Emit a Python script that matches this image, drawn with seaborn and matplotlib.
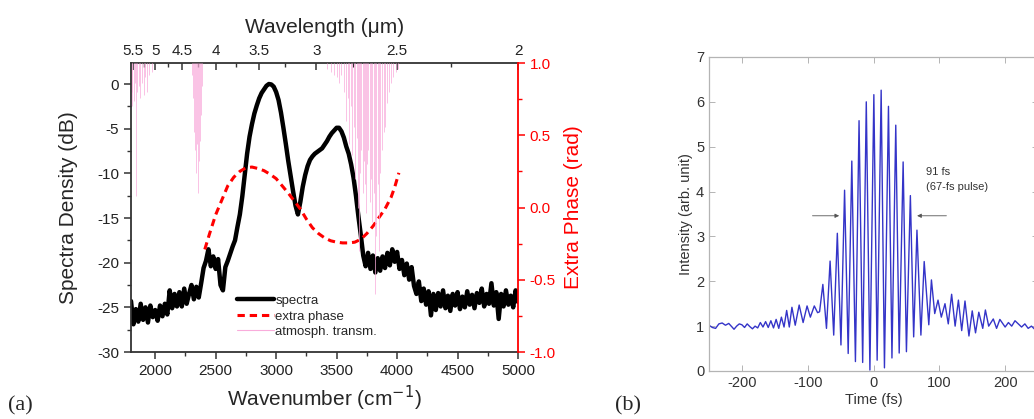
import seaborn as sns
import matplotlib.pyplot as plt
from matplotlib.lines import Line2D

# ---- panel (a): measured spectrum (dB) vs wavenumber ----
wavenumber = [1800, 1820, 1840, 1860, 1880, 1900, 1920, 1940, 1960, 1980,
              2000, 2020, 2040, 2060, 2080, 2100, 2120, 2140, 2160, 2180,
              2200, 2220, 2240, 2260, 2280, 2300, 2320, 2340, 2360, 2380,
              2400, 2420, 2440, 2460, 2480, 2500, 2520, 2540, 2560, 2580,
              2600, 2620, 2640, 2660, 2680, 2700, 2720, 2740, 2760, 2780,
              2800, 2820, 2840, 2860, 2880, 2900, 2920, 2940, 2960, 2980,
              3000, 3020, 3040, 3060, 3080, 3100, 3120, 3140, 3160, 3180,
              3200, 3220, 3240, 3260, 3280, 3300, 3320, 3340, 3360, 3380,
              3400, 3420, 3440, 3460, 3480, 3500, 3520, 3540, 3560, 3580,
              3600, 3620, 3640, 3660, 3680, 3700, 3720, 3740, 3760, 3780,
              3800, 3820, 3840, 3860, 3880, 3900, 3920, 3940, 3960, 3980,
              4000, 4020, 4040, 4060, 4080, 4100, 4120, 4140, 4160, 4180,
              4200, 4220, 4240, 4260, 4280, 4300, 4320, 4340, 4360, 4380,
              4400, 4420, 4440, 4460, 4480, 4500, 4520, 4540, 4560, 4580,
              4600, 4620, 4640, 4660, 4680, 4700, 4720, 4740, 4760, 4780,
              4800, 4820, 4840, 4860, 4880, 4900, 4920, 4940, 4960, 4980, 5000]
spectra_db = [-24.3, -26.9, -25.2, -26.6, -24.6, -26.4, -25.0, -26.7, -24.8, -26.1,
              -25.3, -26.5, -24.8, -26.0, -24.6, -25.8, -23.1, -25.1, -23.5, -24.9,
              -23.3, -24.9, -22.9, -24.6, -23.5, -22.5, -24.1, -22.7, -23.9, -22.3,
              -20.6, -19.8, -18.5, -20.4, -19.3, -20.7, -19.6, -22.5, -23.1, -20.5,
              -19.8, -19.0, -18.2, -17.5, -16.0, -14.6, -12.6, -10.2, -7.8, -5.9,
              -4.5, -3.3, -2.4, -1.6, -1.0, -0.6, -0.2, 0.0, -0.05, -0.3,
              -0.9, -1.8, -3.2, -4.9, -6.7, -8.6, -10.3, -12.0, -13.6, -14.6,
              -13.2, -11.5, -10.2, -9.2, -8.5, -8.1, -7.8, -7.6, -7.4, -7.2,
              -6.8, -6.4, -5.9, -5.5, -5.2, -4.9, -4.9, -5.3, -6.0, -7.0,
              -7.8, -9.0, -10.5, -12.5, -14.8, -16.9, -19.2, -20.4, -18.9, -20.7,
              -19.2, -21.1, -19.5, -20.9, -19.3, -20.6, -18.9, -20.3, -18.5, -19.9,
              -18.8, -20.7, -19.7, -21.4, -20.1, -21.9, -20.5, -22.6, -23.5, -22.1,
              -24.3, -22.9, -24.7, -23.2, -25.9, -23.5, -25.3, -23.4, -24.9, -23.1,
              -25.1, -23.7, -25.4, -23.5, -24.8, -23.3, -25.2, -23.8, -25.0, -23.2,
              -24.7, -23.6, -25.1, -23.4, -24.5, -22.9, -24.9, -23.5, -24.6, -22.3,
              -24.8, -23.3, -26.3, -23.5, -24.9, -23.1, -24.7, -23.7, -25.0, -23.1, -24.4]

phase_wn = [2410, 2450, 2500, 2550, 2600, 2650, 2700, 2750, 2800, 2850,
            2900, 2950, 3000, 3050, 3100, 3150, 3200, 3250, 3300, 3350,
            3400, 3450, 3500, 3550, 3600, 3650, 3700, 3750, 3800, 3850,
            3900, 3950, 3980, 4015]
phase_rad = [-0.29, -0.18, -0.05, 0.05, 0.15, 0.21, 0.25, 0.275, 0.28, 0.27,
             0.255, 0.23, 0.20, 0.15, 0.10, 0.045, -0.01, -0.08, -0.14, -0.18,
             -0.21, -0.23, -0.24, -0.245, -0.245, -0.24, -0.22, -0.18, -0.13, -0.07,
             -0.01, 0.07, 0.14, 0.24]

# atmospheric absorption lines (centre wavenumber, transmission at the dip)
atm_wn = [1805, 1812, 1821, 1830, 1845, 1852, 1862, 1874, 1890, 1905,
          1918, 1932, 1950, 1970,
          2305, 2315, 2322, 2330, 2338, 2345, 2352, 2360, 2368, 2376, 2385,
          3420, 3450, 3480, 3500, 3520, 3540, 3560, 3575, 3590, 3600,
          3615, 3625, 3640, 3652, 3665, 3678, 3686, 3695, 3705, 3715,
          3725, 3735, 3745, 3752, 3762, 3772, 3783, 3795, 3805, 3818,
          3828, 3840, 3852, 3862, 3875, 3888, 3900, 3915, 3930, 3950,
          3970, 3990, 4010]
atm_trans = [0.90, 0.85, 0.87, 0.93, 0.54, 0.90, 0.92, 0.88, 0.93, 0.89,
             0.95, 0.90, 0.96, 0.97,
             0.96, 0.88, 0.76, 0.70, 0.62, 0.72, 0.55, 0.66, 0.73, 0.82, 0.92,
             0.98, 0.97, 0.96, 0.95, 0.93, 0.96, 0.90, 0.80, 0.88, 0.72,
             0.85, 0.68, 0.78, 0.60, 0.74, 0.50, 0.35, 0.62, 0.70, 0.55,
             0.66, 0.58, 0.48, 0.65, 0.70, 0.52, 0.60, 0.45, 0.55, 0.20,
             0.40, 0.58, 0.35, 0.62, 0.70, 0.76, 0.78, 0.86, 0.90, 0.93,
             0.95, 0.97, 0.98]

wl_major = [5.5, 5, 4.5, 4, 3.5, 3, 2.5, 2]
wl_labels = ['5.5', '5', '4.5', '4', '3.5', '3', '2.5', '2']
wl_minor = [5.25, 4.75, 4.25, 3.75, 3.25, 2.75, 2.25]

# ---- panel (b): interferometric autocorrelation ----
time_fs = [-250, -245, -240, -235, -230, -225, -220, -215, -212, -208,
           -204, -200, -196, -192, -188, -184, -180, -176, -172, -168,
           -164, -160, -156, -152, -148, -144, -140, -136, -132, -128,
           -124, -119, -113, -107, -101, -96, -90, -85, -82, -77,
           -71.5, -66, -60.5, -55, -49.5, -44, -38.5, -33, -27.5, -22,
           -16.5, -11, -5.5, 0.5, 5.5, 11.6, 16.6, 22.7, 28, 33.8,
           39, 45, 50, 56, 61, 66, 72, 77, 84, 88,
           93, 98, 103, 108.6, 113.6, 118.7, 124, 129, 134, 139,
           145, 150, 155, 160, 166, 170, 175, 182, 187, 192,
           200, 205, 210, 215, 220, 225, 230, 235, 240, 245, 250]
intensity = [1.02, 0.97, 0.95, 1.05, 1.07, 1.02, 1.06, 0.98, 0.93, 1.00,
             1.05, 1.03, 0.97, 1.05, 0.99, 0.94, 1.00, 0.96, 1.08, 0.98,
             1.10, 0.97, 1.12, 0.96, 1.15, 0.95, 1.20, 0.98, 1.35, 0.98,
             1.42, 1.02, 1.47, 1.08, 1.45, 1.20, 1.45, 1.30, 1.32, 1.93,
             0.95, 2.45, 0.80, 3.07, 0.58, 4.03, 0.39, 4.68, 0.21, 5.58,
             0.19, 6.00, 0.02, 6.16, 0.24, 6.26, 0.07, 5.90, 0.29, 5.48,
             0.40, 4.66, 0.43, 3.91, 0.76, 3.14, 0.80, 2.44, 1.03, 2.03,
             1.28, 1.58, 1.20, 1.50, 1.05, 1.71, 1.00, 1.58, 0.90, 1.56,
             0.78, 1.34, 0.85, 1.31, 0.95, 1.36, 1.00, 1.16, 0.95, 1.15,
             0.98, 1.08, 1.00, 1.12, 1.05, 0.98, 1.05, 0.95, 1.00, 0.93, 1.02]

sns.set_style("ticks")
plt.rcParams['font.family'] = ['Liberation Sans', 'DejaVu Sans']
plt.rcParams['axes.unicode_minus'] = False

fig = plt.figure(figsize=(10.34, 4.19), dpi=100)

# ----------------- panel (a) -----------------
ax = fig.add_axes([0.1267, 0.1599, 0.3743, 0.6897])
ax_r = ax.twinx()
ax_t = ax.twinx()

sns.lineplot(x=wavenumber, y=spectra_db, ax=ax, color='black', lw=3.2,
             estimator=None, sort=False)
sns.lineplot(x=phase_wn, y=phase_rad, ax=ax_r, color='#ff0000', lw=2.2,
             linestyle=(0, (2.4, 1.6)), estimator=None, sort=False)
ax_t.vlines(atm_wn, atm_trans, 1.0, colors='#f9acdb', lw=0.6, alpha=0.85)

ax.set_xlim(1800, 5000)
ax.set_ylim(-30, 2.35)
ax_r.set_ylim(-1, 1)
ax_t.set_ylim(0, 1)
ax_t.axis('off')

ax.set_xticks([2000, 2500, 3000, 3500, 4000, 4500, 5000])
ax.set_xticks([2250, 2750, 3250, 3750, 4250, 4750], minor=True)
ax.set_yticks([-30, -25, -20, -15, -10, -5, 0])
ax.set_yticks([-27.5, -22.5, -17.5, -12.5, -7.5, -2.5], minor=True)
ax_r.set_yticks([-1.0, -0.5, 0.0, 0.5, 1.0])
ax_r.set_yticks([-0.75, -0.25, 0.25, 0.75], minor=True)
ax_r.set_yticklabels(['-1.0', '-0.5', '0.0', '0.5', '1.0'])
ax.set_yticklabels(['-30', '-25', '-20', '-15', '-10', '-5', '0'])

for s in ['left', 'bottom']:
    ax.spines[s].set_color('#333333')
    ax.spines[s].set_linewidth(1.3)
ax.spines['right'].set_visible(False)
ax.spines['top'].set_visible(False)
for s in ['left', 'top', 'bottom']:
    ax_r.spines[s].set_visible(False)
ax_r.spines['right'].set_color('#ff0000')
ax_r.spines['right'].set_linewidth(1.3)

ax.tick_params(axis='both', which='major', length=5, width=1.1, color='#333333',
               labelsize=11, labelcolor='#222222', direction='out')
ax.tick_params(axis='both', which='minor', length=3, width=1.0, color='#333333',
               direction='out')
ax_r.tick_params(axis='y', which='major', length=5, width=1.1, color='#ff0000',
                 labelsize=11, labelcolor='#ff0000', direction='out')
ax_r.tick_params(axis='y', which='minor', length=3, width=1.0, color='#ff0000',
                 direction='out')

ax.set_xlabel('Wavenumber (cm$^{-1}$)', fontsize=15, labelpad=4)
ax.set_ylabel('Spectra Density (dB)', fontsize=15, labelpad=14)
ax_r.set_ylabel('Extra Phase (rad)', fontsize=15, color='#ff0000', labelpad=6)

top = ax.secondary_xaxis('top', functions=(lambda x: 1e4 / x, lambda x: 1e4 / x))
top.set_xticks(wl_major)
top.set_xticklabels(wl_labels)
top.set_xticks(wl_minor, minor=True)
top.spines['top'].set_color('#333333')
top.spines['top'].set_linewidth(1.3)
top.tick_params(axis='x', which='major', length=5, width=1.1, color='#333333',
                labelsize=11, labelcolor='#222222', direction='in')
top.tick_params(axis='x', which='minor', length=3, width=1.0, color='#333333',
                direction='in')
top.set_xlabel('Wavelength (\u03bcm)', fontsize=15, labelpad=8)

for a in (ax, ax_r, ax_t):
    if a.get_legend() is not None:
        a.get_legend().remove()

handles = [Line2D([], [], color='black', lw=3.2),
           Line2D([], [], color='#ff0000', lw=2.2, linestyle=(0, (2.4, 1.6))),
           Line2D([], [], color='#f9acdb', lw=0.8)]
ax_t.legend(handles, ['spectra', 'extra phase', 'atmosph. transm.'],
            loc='lower left', bbox_to_anchor=(0.26, 0.03), frameon=False,
            fontsize=9.5, handlelength=2.8, handletextpad=0.1,
            labelspacing=0.25, borderaxespad=0)

fig.text(0.008, 0.02, '(a)', fontsize=16, family='Liberation Serif')

# ----------------- panel (b) -----------------
bx = fig.add_axes([0.6857, 0.1146, 0.3182, 0.7494])
sns.lineplot(x=time_fs, y=intensity, ax=bx, color='#3434c8', lw=1.0,
             estimator=None, sort=False)
if bx.get_legend() is not None:
    bx.get_legend().remove()
bx.set_xlim(-250, 250)
bx.set_ylim(0, 7)
bx.set_xticks([-200, -100, 0, 100, 200])
bx.set_yticks([0, 1, 2, 3, 4, 5, 6, 7])
for s in bx.spines.values():
    s.set_color('#b4b4b4')
    s.set_linewidth(0.9)
bx.tick_params(axis='both', direction='in', length=4, width=0.7, color='#b4b4b4',
               labelsize=10.5, labelcolor='#333333', top=True, right=True)
bx.set_xlabel('Time (fs)', fontsize=10.5, color='#333333', labelpad=2)
bx.set_ylabel('Intensity (arb. unit)', fontsize=10.5, color='#333333', labelpad=2)

bx.text(80, 4.44, '91 fs', fontsize=8, color='#333333', va='center')
bx.text(80, 4.10, '(67-fs pulse)', fontsize=8, color='#333333', va='center')
bx.annotate('', xy=(-48, 3.46), xytext=(-97, 3.46),
            arrowprops=dict(arrowstyle='-|>', lw=0.6, color='#555555', mutation_scale=6))
bx.annotate('', xy=(62, 3.46), xytext=(115, 3.46),
            arrowprops=dict(arrowstyle='-|>', lw=0.6, color='#555555', mutation_scale=6))

fig.text(0.595, 0.02, '(b)', fontsize=16, family='Liberation Serif')

fig.savefig('out.png', dpi=100)
